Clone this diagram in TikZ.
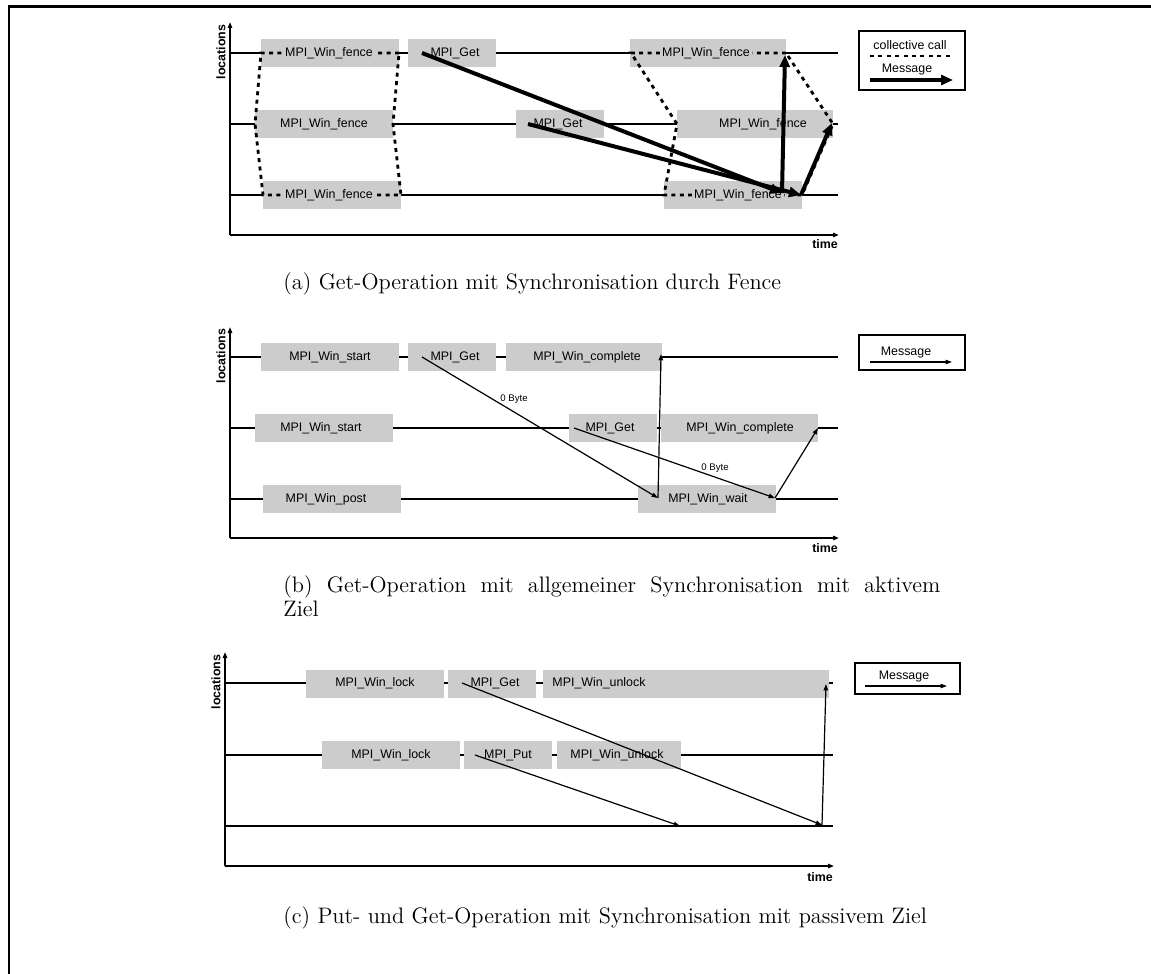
\documentclass[tikz,border=0pt]{standalone}
\usepackage{fontspec}
\setsansfont{Liberation Sans}
\usetikzlibrary{arrows.meta}
\definecolor{boxgray}{RGB}{204,204,204}
\begin{document}
\begin{tikzpicture}[x=0.5pt,y=-0.5pt,
  proc/.style={line width=0.8pt},
  axisline/.style={line width=0.8pt,-{Triangle[length=3pt,width=2.2pt]}},
  opbox/.style={fill=boxgray},
  optext/.style={font=\sffamily\fontsize{6.2}{7}\selectfont,inner sep=1.2pt,fill=boxgray},
  legtext/.style={font=\sffamily\fontsize{6.2}{7}\selectfont,inner sep=0pt},
  bytetext/.style={font=\sffamily\fontsize{4.8}{5}\selectfont,inner sep=0pt},
  axlabel/.style={font=\sffamily\bfseries\fontsize{6.2}{7}\selectfont,inner sep=0pt},
  collective/.style={line width=1.4pt,dash pattern=on 2pt off 2.2pt},
  bigmsg/.style={line width=2pt,-{Triangle[length=6pt,width=5pt]}},
  msg/.style={line width=0.6pt,-{Triangle[length=3.2pt,width=2.2pt]}},
  legendbox/.style={draw,line width=1pt},
  captext/.style={font=\fontsize{11.2}{14}\selectfont,inner sep=0pt,anchor=base west},
  frameline/.style={line width=1.4pt}
]
\useasboundingbox (0,0) rectangle (1151,974);
% outer frame (top and left edges)
\coordinate (fr-tl) at (9,6.5);
\coordinate (fr-tr) at (1151,6.5);
\coordinate (fr-bl) at (9,974);
\draw[frameline] (fr-tr) -- (fr-tl) -- (fr-bl);

% ================= (a) fence =================
\coordinate (a-o) at (230,235);
\coordinate (a-yt) at (230,22);
\coordinate (a-xe) at (839,235);
\draw[axisline] (a-o) -- (a-yt);
\draw[axisline] (a-o) -- (a-xe);
\node[axlabel,rotate=90] (a-loc) at (221,52) {locations};
\node[axlabel] (a-time) at (825,244) {time};
% process lines
\foreach \y/\n in {53/1,124/2,195/3}{
  \coordinate (a-l\n s) at (230,\y);
  \coordinate (a-l\n e) at (838,\y);
  \draw[proc] (a-l\n s) -- (a-l\n e);
}
% operation boxes
\fill[opbox] (261,39) rectangle (399,67);
\fill[opbox] (408,39) rectangle (496,67);
\fill[opbox] (630,39) rectangle (786,67);
\fill[opbox] (255,110) rectangle (393,138);
\fill[opbox] (516,110) rectangle (604,138);
\fill[opbox] (677,110) rectangle (833,138);
\fill[opbox] (263,181) rectangle (401,209);
\fill[opbox] (664,181) rectangle (802,209);
% collective calls
\draw[collective] (399,53) -- (261,53) -- (255,124) -- (263,195) -- (401,195) -- (393,124) -- cycle;
\draw[collective] (786,53) -- (631,53) -- (677,124) -- (664,195) -- (802,195) -- (833,124) -- cycle;
% labels
\node[optext] (a-f1) at (329,53) {MPI\_Win\_fence};
\node[optext] (a-g1) at (455,53) {MPI\_Get};
\node[optext] (a-f4) at (706,53) {MPI\_Win\_fence};
\node[optext] (a-f2) at (324,124) {MPI\_Win\_fence};
\node[optext] (a-g2) at (558,124) {MPI\_Get};
\node[optext] (a-f5) at (763,124) {MPI\_Win\_fence};
\node[optext] (a-f3) at (329,195) {MPI\_Win\_fence};
\node[optext] (a-f6) at (738,195) {MPI\_Win\_fence};
% messages
\coordinate (a-g1s) at (422,53);
\coordinate (a-g1e) at (782,193);
\coordinate (a-g2s) at (528,124);
\coordinate (a-g2e) at (801,195);
\coordinate (a-f4r) at (785,55);
\coordinate (a-f5r) at (832,123);
\draw[bigmsg] (a-g1s) -- (a-g1e);
\draw[bigmsg] (a-g2s) -- (a-g2e);
\draw[bigmsg] (a-g1e) -- (a-f4r);
\draw[bigmsg] (a-g2e) -- (a-f5r);
% legend
\draw[legendbox] (859,31) rectangle (965,90);
\node[legtext] (a-lg1) at (910,45) {collective call};
\coordinate (a-lc1) at (870,56);
\coordinate (a-lc2) at (950,56);
\draw[collective] (a-lc1) -- (a-lc2);
\node[legtext] (a-lg2) at (907,70) {Message};
\coordinate (a-lm1) at (870,80);
\coordinate (a-lm2) at (953,80);
\draw[bigmsg] (a-lm1) -- (a-lm2);
\node[captext] (cap-a) at (283,289) {(a) Get-Operation mit Synchronisation durch Fence};

% ================= (b) active target =================
\coordinate (b-o) at (230,538);
\coordinate (b-yt) at (230,327);
\coordinate (b-xe) at (839,538);
\draw[axisline] (b-o) -- (b-yt);
\draw[axisline] (b-o) -- (b-xe);
\node[axlabel,rotate=90] (b-loc) at (221,356) {locations};
\node[axlabel] (b-time) at (825,548) {time};
\foreach \y/\n in {357/1,428/2,499/3}{
  \coordinate (b-l\n s) at (230,\y);
  \coordinate (b-l\n e) at (838,\y);
  \draw[proc] (b-l\n s) -- (b-l\n e);
}
\fill[opbox] (261,343) rectangle (399,371);
\fill[opbox] (408,343) rectangle (496,371);
\fill[opbox] (506,343) rectangle (662,371);
\fill[opbox] (255,414) rectangle (393,442);
\fill[opbox] (569,414) rectangle (657,442);
\fill[opbox] (661,414) rectangle (818,442);
\fill[opbox] (263,485) rectangle (401,513);
\fill[opbox] (638,485) rectangle (776,513);
\node[optext] (b-s1) at (330,357) {MPI\_Win\_start};
\node[optext] (b-g1) at (455,357) {MPI\_Get};
\node[optext] (b-c1) at (587,357) {MPI\_Win\_complete};
\node[optext] (b-s2) at (321,428) {MPI\_Win\_start};
\node[optext] (b-g2) at (610,428) {MPI\_Get};
\node[optext] (b-c2) at (740,428) {MPI\_Win\_complete};
\node[optext] (b-p3) at (326,499) {MPI\_Win\_post};
\node[optext] (b-w3) at (708,499) {MPI\_Win\_wait};
\coordinate (b-g1s) at (422,357);
\coordinate (b-w3a) at (658,498);
\coordinate (b-c1e) at (661,354);
\coordinate (b-g2s) at (574,428);
\coordinate (b-w3b) at (775,498);
\coordinate (b-c2e) at (818,428);
\draw[msg] (b-g1s) -- (b-w3a);
\draw[msg] (b-w3a) -- (b-c1e);
\draw[msg] (b-g2s) -- (b-w3b);
\draw[msg] (b-w3b) -- (b-c2e);
\node[bytetext] (b-by1) at (514,399) {0 Byte};
\node[bytetext] (b-by2) at (715,468) {0 Byte};
\draw[legendbox] (859,335) rectangle (965,370);
\node[legtext] (b-lg) at (906,353) {Message};
\coordinate (b-lm1) at (870,362);
\coordinate (b-lm2) at (952,362);
\draw[msg] (b-lm1) -- (b-lm2);
\node[captext] (cap-b1) at (283,592) {\makebox[328.5pt][s]{(b) Get-Operation mit allgemeiner Synchronisation mit aktivem}};
\node[captext] (cap-b2) at (283,616) {Ziel};

% ================= (c) passive target =================
\coordinate (c-o) at (225,866);
\coordinate (c-yt) at (225,652);
\coordinate (c-xe) at (834,866);
\draw[axisline] (c-o) -- (c-yt);
\draw[axisline] (c-o) -- (c-xe);
\node[axlabel,rotate=90] (c-loc) at (216,682) {locations};
\node[axlabel] (c-time) at (820,877) {time};
\foreach \y/\n in {683/1,755/2,826/3}{
  \coordinate (c-l\n s) at (225,\y);
  \coordinate (c-l\n e) at (833,\y);
  \draw[proc] (c-l\n s) -- (c-l\n e);
}
\fill[opbox] (306,670) rectangle (444,698);
\fill[opbox] (448,670) rectangle (536,698);
\fill[opbox] (543,670) rectangle (829,698);
\fill[opbox] (322,741) rectangle (460,769);
\fill[opbox] (464,741) rectangle (552,769);
\fill[opbox] (557,741) rectangle (681,769);
\node[optext] (c-k1) at (375,683) {MPI\_Win\_lock};
\node[optext] (c-g1) at (495,683) {MPI\_Get};
\node[optext] (c-u1) at (599,683) {MPI\_Win\_unlock};
\node[optext] (c-k2) at (391,755) {MPI\_Win\_lock};
\node[optext] (c-p2) at (508,755) {MPI\_Put};
\node[optext] (c-u2) at (617,755) {MPI\_Win\_unlock};
\coordinate (c-g1s) at (462,683);
\coordinate (c-g1e) at (822,825);
\coordinate (c-p2s) at (475,755);
\coordinate (c-p2e) at (680,826);
\coordinate (c-u1e) at (826,684);
\draw[msg] (c-g1s) -- (c-g1e);
\draw[msg] (c-p2s) -- (c-p2e);
\draw[msg] (c-g1e) -- (c-u1e);
\draw[legendbox] (855,663) rectangle (960,694);
\node[legtext] (c-lg) at (904,677) {Message};
\coordinate (c-lm1) at (865,686);
\coordinate (c-lm2) at (947,686);
\draw[msg] (c-lm1) -- (c-lm2);
\node[captext] (cap-c) at (283,923) {(c) Put- und Get-Operation mit Synchronisation mit passivem Ziel};
\end{tikzpicture}
\end{document}
